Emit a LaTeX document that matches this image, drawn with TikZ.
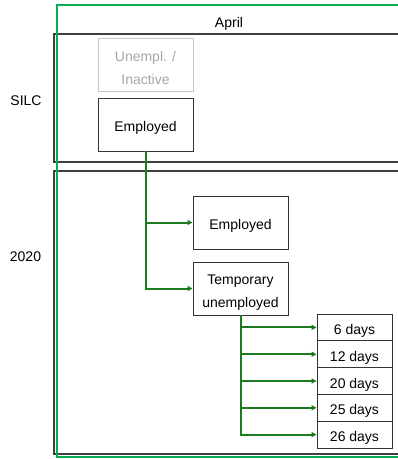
\documentclass[tikz,border=0pt]{standalone}
\usepackage{fontspec}
\setmainfont{Liberation Sans}
\usetikzlibrary{arrows.meta}
\definecolor{framec}{HTML}{00B050}
\definecolor{flowc}{HTML}{1E7A1E}
\definecolor{panelc}{HTML}{404040}
\definecolor{greyc}{HTML}{A6A6A6}
\tikzset{
  panel/.style={draw=panelc, line width=1.3pt},
  frame/.style={draw=framec, line width=2pt},
  state/.style={draw=black!80, line width=0.9pt, minimum width=95pt, inner sep=0pt, align=center, text height=33.7pt, text depth=19.3pt, font=\fontsize{14}{23}\selectfont},
  faded/.style={state, draw=black!22, text=greyc},
  spell/.style={draw=black!80, line width=0.9pt, minimum width=75pt, inner sep=0pt, text height=20.5pt, text depth=6.3pt, font=\fontsize{14}{16}\selectfont},
  lbl/.style={anchor=base, font=\fontsize{14}{16}\selectfont},
  flow/.style={draw=flowc, line width=2pt, -{Triangle[length=5pt,width=5pt]}},
}

\begin{document}
\begin{tikzpicture}[x=1pt,y=-1pt]
\useasboundingbox (0,0) rectangle (398,459);
% panels
\draw[panel] (54,34) rectangle (420,162);
\draw[panel] (54,171) rectangle (420,454);
\node[lbl] (april) at (229,27) {April};
\node[lbl] (silc) at (26,105) {SILC};
\node[lbl] (year) at (25.5,261) {2020};
% states
\node[faded, text height=46pt, text depth=7pt] (unemp) at (145.5,64.5) {Unempl. /\\Inactive};
\node[state] (emp0) at (145.5,124.5) {Employed};
\node[state] (emp1) at (240.5,222.5) {Employed};
\node[state, text height=45pt, text depth=8pt] (temp) at (240.5,288.5) {Temporary\\unemployed};
\node[spell] (d6) at (354.5,327.4) {6 days};
\node[spell] (d12) at (354.5,354.2) {12 days};
\node[spell] (d20) at (354.5,381) {20 days};
\node[spell] (d25) at (354.5,407.8) {25 days};
\node[spell] (d26) at (354.5,434.6) {26 days};
% transitions
\draw[flow] (emp0.south) |- (emp1.west);
\draw[flow] (emp0.south) |- (temp.west);
\foreach \d in {d6,d12,d20,d25,d26}
  \draw[flow] (temp.south) |- (\d.west);
% outer frame
\draw[frame] (57,5) rectangle (420,457);
\end{tikzpicture}
\end{document}
